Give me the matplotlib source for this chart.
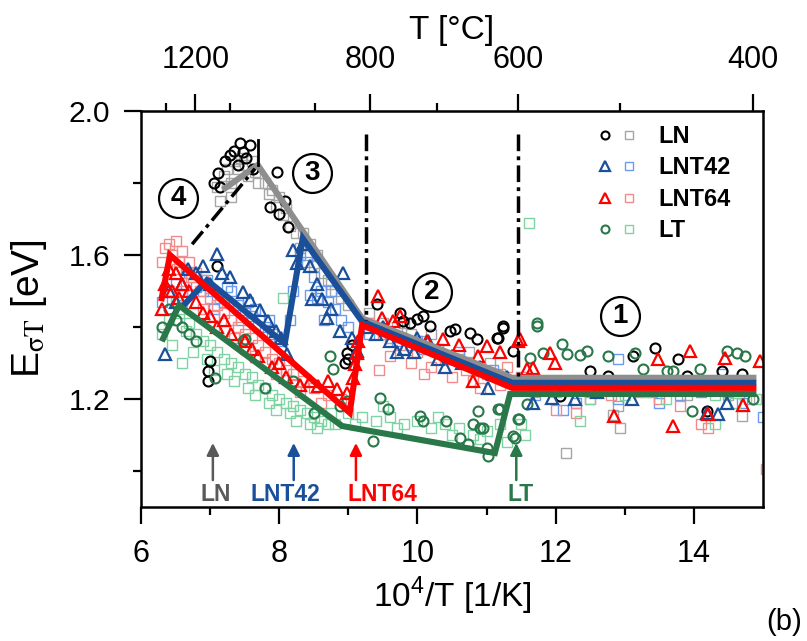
import matplotlib.pyplot as plt
from matplotlib.legend_handler import HandlerTuple
import numpy as np

plt.rcParams['font.family'] = ['Liberation Sans', 'DejaVu Sans']
plt.rcParams['mathtext.fontset'] = 'custom'
plt.rcParams['mathtext.rm'] = 'Liberation Sans'

# ---- measured points (x = 10^4/T, y = E in eV) ----
ln_circ_x = [7.43, 7.58, 7.48, 7.29, 7.11, 7.14, 7.97, 7.87, 8.08, 8.13, 7.99, 7.10, 7.35, 7.22,
             7.52, 7.05, 7.00, 6.97, 6.97, 8.98, 9.00, 9.42, 9.75, 9.79, 10.08, 10.18, 10.47,
             10.54, 10.76, 10.86, 11.15, 11.24, 11.38, 9.89, 10.00, 11.24, 11.17, 13.12, 13.44,
             13.77, 14.41, 14.70, 12.50, 12.76, 14.19, 12.06, 13.90, 9.05, 8.95, 7.62, 7.40]
ln_circ_y = [1.91, 1.905, 1.886, 1.877, 1.827, 1.79, 1.83, 1.733, 1.75, 1.677, 1.715, 1.57, 1.89, 1.86,
             1.87, 1.80, 1.306, 1.279, 1.25, 1.329, 1.312, 1.465, 1.44, 1.418, 1.432, 1.404, 1.39,
             1.395, 1.384, 1.368, 1.37, 1.398, 1.334, 1.41, 1.423, 1.404, 1.37, 1.32, 1.343,
             1.312, 1.279, 1.27, 1.279, 1.265, 1.167, 1.209, 1.265, 1.35, 1.30, 1.84, 1.85]

ln_sq_x = [7.10, 7.20, 7.25, 7.30, 7.35, 7.40, 7.45, 7.50, 7.55, 7.60, 7.70, 7.80, 7.85, 7.95, 8.05,
           8.15, 8.25, 8.30, 8.40, 8.50, 8.60, 8.70, 8.80, 8.90, 9.00, 7.30, 7.15, 8.00, 8.45,
           9.30, 9.50, 9.70, 9.90, 10.10, 10.30, 10.60, 10.90, 11.20, 9.60, 10.40,
           12.50, 12.90, 13.40, 13.90, 14.50, 12.10, 14.80, 12.15, 12.93, 12.83, 14.70,
           7.65, 7.90, 8.10, 8.35, 8.55, 8.75, 9.80, 10.20, 10.75, 11.05]
ln_sq_y = [1.79, 1.82, 1.84, 1.80, 1.86, 1.84, 1.87, 1.85, 1.82, 1.86, 1.80, 1.80, 1.77, 1.74, 1.71,
           1.68, 1.66, 1.62, 1.60, 1.57, 1.55, 1.53, 1.50, 1.48, 1.46, 1.76, 1.75, 1.76, 1.63,
           1.44, 1.41, 1.40, 1.38, 1.36, 1.34, 1.31, 1.29, 1.27, 1.37, 1.32,
           1.22, 1.18, 1.22, 1.21, 1.21, 1.24, 1.20, 1.05, 1.12, 1.156, 1.153,
           1.83, 1.78, 1.73, 1.66, 1.60, 1.52, 1.41, 1.38, 1.33, 1.30]

lnt42_tri_x = [6.35, 7.10, 7.17, 7.29, 7.48, 7.58, 7.72, 7.84, 8.11, 8.20, 8.26, 8.47, 8.62, 8.69,
               8.92, 8.88, 9.05, 9.13, 6.68, 6.40, 6.50, 6.60, 6.80, 7.00, 6.90,
               9.25, 9.40, 9.60, 9.80, 9.95, 10.15, 10.30, 10.50, 10.65, 10.90, 11.10, 11.30, 9.50,
               10.00, 8.35, 8.45, 8.55, 8.75, 11.67, 11.95, 12.28, 14.35, 14.19, 14.48, 11.02,
               13.10, 12.60, 7.95, 8.02, 9.70, 10.40]
lnt42_tri_y = [1.326, 1.604, 1.549, 1.538, 1.496, 1.474, 1.446, 1.418, 1.326, 1.613, 1.577, 1.479,
               1.479, 1.426, 1.549, 1.39, 1.37, 1.334, 1.56, 1.50, 1.47, 1.52, 1.55, 1.52, 1.57,
               1.40, 1.38, 1.36, 1.34, 1.33, 1.36, 1.31, 1.32, 1.30, 1.29, 1.27, 1.26, 1.40,
               1.37, 1.63, 1.57, 1.52, 1.45, 1.19, 1.203, 1.20, 1.159, 1.16, 1.19, 1.231,
               1.20, 1.22, 1.39, 1.37, 1.33, 1.29]

lnt42_sq_x = [6.30, 6.40, 6.50, 6.60, 6.70, 6.80, 6.90, 7.00, 7.10, 7.20, 7.30, 7.40, 7.50, 7.60,
              7.70, 7.80, 7.90, 8.00, 8.15, 8.20, 8.30, 8.40, 8.50, 8.60, 8.70, 8.80, 8.90, 9.00,
              8.45, 8.65, 7.05, 7.45, 7.55, 9.30, 9.50, 9.70, 9.90, 10.10, 10.30, 10.50, 10.70,
              10.90, 11.10, 11.30, 11.70, 12.00, 12.30, 12.60, 12.90, 13.20, 13.50, 13.80, 14.10,
              14.40, 14.70, 15.00, 12.90, 12.10, 6.95, 7.25, 7.65, 7.85, 8.55, 8.75, 9.60, 10.00,
              10.60]
lnt42_sq_y = [1.47, 1.50, 1.52, 1.49, 1.55, 1.51, 1.50, 1.50, 1.48, 1.47, 1.50, 1.46, 1.44, 1.43,
              1.40, 1.40, 1.38, 1.36, 1.42, 1.50, 1.60, 1.58, 1.54, 1.50, 1.47, 1.45, 1.42, 1.40,
              1.49, 1.42, 1.45, 1.42, 1.47, 1.38, 1.39, 1.36, 1.35, 1.34, 1.33, 1.31, 1.30,
              1.28, 1.28, 1.25, 1.21, 1.23, 1.19, 1.22, 1.20, 1.23, 1.19, 1.21, 1.22,
              1.27, 1.19, 1.15, 1.31, 1.17, 1.53, 1.51, 1.45, 1.42, 1.48, 1.50, 1.38, 1.36,
              1.33]

lnt64_tri_x = [6.30, 6.35, 6.40, 6.45, 6.50, 6.55, 6.60, 6.70, 6.80, 6.90, 7.00, 7.10, 7.30, 7.50,
               7.70, 7.90, 8.10, 8.30, 8.56, 8.71, 8.84, 8.98, 9.07, 9.10, 9.13, 9.14,
               9.43, 9.49, 9.65, 9.75, 10.14, 10.37, 10.60, 10.80, 10.88, 11.00, 11.20, 11.46,
               11.59, 11.67, 11.48, 11.92, 11.99, 13.48, 13.95, 14.45, 12.85, 13.70, 14.71, 14.20,
               14.96, 7.20, 7.60, 8.00, 8.45]
lnt64_tri_y = [1.45, 1.52, 1.56, 1.50, 1.55, 1.48, 1.52, 1.50, 1.47, 1.44, 1.43, 1.40, 1.38, 1.36,
               1.32, 1.29, 1.26, 1.24, 1.237, 1.25, 1.228, 1.217, 1.259, 1.298, 1.329, 1.362,
               1.487, 1.426, 1.418, 1.43, 1.362, 1.368, 1.35, 1.25, 1.32, 1.348, 1.33, 1.362,
               1.284, 1.287, 1.367, 1.329, 1.301, 1.312, 1.334, 1.315, 1.153, 1.125, 1.184, 1.159,
               1.306, 1.42, 1.34, 1.30, 1.25]

lnt64_sq_x = [6.30, 6.35, 6.40, 6.45, 6.50, 6.55, 6.60, 6.65, 6.70, 6.75, 6.80, 6.85, 6.90, 7.00,
              7.10, 7.20, 7.30, 7.40, 7.50, 7.60, 7.70, 7.80, 7.90, 8.00, 8.10, 8.20, 8.35, 8.50,
              8.70, 8.90, 6.40, 6.60, 6.90, 7.20, 7.50, 7.80, 8.30,
              9.30, 9.50, 9.60, 9.75, 9.90, 10.00, 10.20, 10.40, 10.50, 10.70, 10.80, 11.00,
              11.20, 11.30, 9.45, 11.50, 11.70, 12.00, 12.20, 12.50, 12.80, 13.20, 13.50, 13.80,
              14.20, 14.10, 14.50, 14.80, 12.30, 13.00, 15.05, 6.52, 6.72, 7.05, 7.35, 7.65, 7.95,
              8.25, 8.60, 10.10, 10.90]
lnt64_sq_y = [1.58, 1.62, 1.63, 1.60, 1.64, 1.58, 1.61, 1.55, 1.58, 1.52, 1.55, 1.50, 1.53, 1.48,
              1.46, 1.44, 1.42, 1.40, 1.38, 1.37, 1.35, 1.33, 1.31, 1.30, 1.28, 1.27, 1.25, 1.23,
              1.21, 1.20, 1.50, 1.50, 1.45, 1.39, 1.34, 1.30, 1.22,
              1.41, 1.38, 1.32, 1.35, 1.30, 1.33, 1.29, 1.31, 1.26, 1.28, 1.25, 1.27,
              1.24, 1.29, 1.28, 1.26, 1.22, 1.17, 1.24, 1.20, 1.21, 1.22, 1.20, 1.18,
              1.12, 1.13, 1.22, 1.24, 1.16, 1.25, 1.005, 1.56, 1.54, 1.43, 1.37, 1.32, 1.27,
              1.24, 1.19, 1.27, 1.23]

lt_circ_x = [6.30, 6.40, 6.50, 6.60, 6.70, 6.80, 7.07, 7.48, 7.50, 8.20, 8.74, 8.78, 8.88, 8.98,
             9.46, 9.36, 9.57, 10.04, 10.08, 10.42, 10.61, 10.73, 10.80, 10.88, 10.91, 10.95,
             11.00, 11.02, 11.17, 11.38, 11.41, 11.46, 11.59, 11.73, 11.73, 12.09, 11.82, 12.16,
             12.35, 12.45, 12.76, 13.15, 13.27, 13.61, 13.70, 14.09, 14.48, 14.63, 14.74, 13.97,
             11.47, 11.20, 14.86, 11.63, 7.80, 8.50]
lt_circ_y = [1.40, 1.45, 1.42, 1.40, 1.38, 1.36, 1.259, 1.362, 1.368, 1.25, 1.32, 1.284, 1.181, 1.195,
             1.203, 1.084, 1.173, 1.153, 1.139, 1.139, 1.092, 1.075, 1.131, 1.167, 1.12, 1.12,
             1.064, 1.042, 1.173, 1.097, 1.092, 1.145, 1.187, 1.41, 1.404, 1.354, 1.329, 1.326,
             1.323, 1.334, 1.32, 1.329, 1.284, 1.279, 1.279, 1.284, 1.334, 1.329, 1.32, 1.167,
             1.145, 1.173, 1.20, 1.315, 1.23, 1.16]

lt_sq_x = [6.30, 6.40, 6.50, 6.55, 6.60, 6.70, 6.80, 6.90, 7.00, 7.10, 7.20, 7.30, 7.40, 7.50,
           7.60, 7.70, 7.80, 7.90, 8.00, 8.10, 8.20, 8.30, 8.40, 8.50, 8.60, 8.70, 8.80, 6.45,
           6.75, 7.05, 7.35, 7.65, 7.95, 8.25, 8.55, 6.60, 8.06,
           9.00, 9.20, 9.40, 9.60, 9.80, 10.00, 10.20, 10.30, 10.50, 10.60, 10.80, 11.00, 11.20,
           11.30, 9.50, 11.61, 11.70, 12.00, 12.20, 12.50, 12.70, 13.00, 13.30, 13.60, 13.90,
           14.30, 14.60, 14.90, 12.35, 12.80, 11.55, 11.50, 14.30, 6.65, 6.95, 7.25, 7.55, 7.85,
           8.15, 8.45, 8.75, 9.10, 9.70, 10.40, 10.90]
lt_sq_y = [1.38, 1.42, 1.47, 1.44, 1.45, 1.41, 1.38, 1.36, 1.35, 1.33, 1.31, 1.30, 1.29, 1.27,
           1.26, 1.24, 1.23, 1.21, 1.20, 1.19, 1.18, 1.17, 1.16, 1.15, 1.14, 1.13, 1.13, 1.35,
           1.33, 1.28, 1.25, 1.21, 1.17, 1.14, 1.12, 1.30, 1.48,
           1.16, 1.15, 1.14, 1.15, 1.13, 1.14, 1.12, 1.15, 1.10, 1.12, 1.10, 1.11, 1.13,
           1.08, 1.18, 1.69, 1.24, 1.22, 1.25, 1.20, 1.24, 1.21, 1.22, 1.20, 1.23,
           1.21, 1.19, 1.20, 1.14, 1.25, 1.10, 1.13, 1.13, 1.39, 1.31, 1.27, 1.23, 1.19,
           1.16, 1.13, 1.16, 1.13, 1.12, 1.13, 1.09]

# ---- piecewise fits ----
ln_fit_x = [7.22, 7.69, 9.20, 11.37, 14.86]
ln_fit_y = [1.786, 1.85, 1.424, 1.259, 1.259]
lnt42_fit_x = [6.64, 6.955, 8.08, 8.34, 9.20, 11.37, 14.86]
lnt42_fit_y = [1.465, 1.53, 1.354, 1.646, 1.415, 1.245, 1.245]
lnt64_fit_x = [6.30, 6.42, 9.02, 9.20, 11.37, 14.86]
lnt64_fit_y = [1.48, 1.60, 1.162, 1.405, 1.231, 1.231]
lt_fit_x = [6.32, 6.55, 8.91, 11.12, 11.34, 14.86]
lt_fit_y = [1.368, 1.46, 1.125, 1.05, 1.214, 1.214]

# transition positions (arrows) and regime labels
arrow_names = ['LN', 'LNT42', 'LNT64', 'LT']
arrow_x = [7.04, 8.21, 9.11, 11.43]
regime_names = ['1', '2', '3', '4']
regime_x = [12.93, 10.21, 8.47, 6.54]
regime_y = [1.432, 1.496, 1.827, 1.758]

c_gray, c_blue, c_red, c_green = '#8e8e8e', '#1a4f9a', '#ff0000', '#2a774a'
c_lgray, c_lblue, c_lred, c_lgreen = '#a6a6a6', '#6b9bf0', '#f28a8a', '#7fd3a2'
arrow_colors = ['#595959', c_blue, c_red, c_green]

fig = plt.figure(figsize=(8.07, 6.41), dpi=100)
ax = fig.add_axes([0.1747, 0.2090, 0.7708, 0.6178])

sq = dict(marker='s', ls='none', mfc='none', ms=7, mew=1.0)
h_ln_s, = ax.plot(ln_sq_x, ln_sq_y, mec=c_lgray, **sq)
h_42_s, = ax.plot(lnt42_sq_x, lnt42_sq_y, mec=c_lblue, **sq)
h_64_s, = ax.plot(lnt64_sq_x, lnt64_sq_y, mec=c_lred, **sq)
h_lt_s, = ax.plot(lt_sq_x, lt_sq_y, mec=c_lgreen, **sq)
h_ln_c, = ax.plot(ln_circ_x, ln_circ_y, marker='o', ls='none', mfc='none', mec='black', ms=7.2, mew=1.5)
h_lt_c, = ax.plot(lt_circ_x, lt_circ_y, marker='o', ls='none', mfc='none', mec=c_green, ms=7.2, mew=1.5)
h_42_t, = ax.plot(lnt42_tri_x, lnt42_tri_y, marker='^', ls='none', mfc='none', mec=c_blue, ms=9, mew=1.6)
h_64_t, = ax.plot(lnt64_tri_x, lnt64_tri_y, marker='^', ls='none', mfc='none', mec=c_red, ms=9, mew=1.6)

fit_lw = 4.4
ax.plot(ln_fit_x, ln_fit_y, color=c_gray, lw=fit_lw, solid_joinstyle='miter', zorder=4)
ax.plot(lnt42_fit_x, lnt42_fit_y, color=c_blue, lw=fit_lw, solid_joinstyle='miter', zorder=4)
ax.plot(lnt64_fit_x, lnt64_fit_y, color=c_red, lw=fit_lw, solid_joinstyle='miter', zorder=4)
ax.plot(lt_fit_x, lt_fit_y, color=c_green, lw=fit_lw, solid_joinstyle='miter', zorder=4)

# regime boundaries
dashdot = (0, (4.8, 1.5, 1.1, 1.5))
ax.plot([9.25, 9.25], [1.935, 1.42], color='black', lw=2.5, ls=dashdot, zorder=5)
ax.plot([11.46, 11.46], [1.935, 1.26], color='black', lw=2.5, ls=dashdot, zorder=5)
ax.plot([6.74, 7.65], [1.63, 1.84], color='black', lw=2.5, ls=dashdot, zorder=5)
ax.plot([7.69, 7.69], [1.85, 1.92], color='black', lw=2.0, zorder=5)

# numbered regimes
for name, x, y in zip(regime_names, regime_x, regime_y):
    ax.plot(x, y, marker='o', ms=28, mfc='white', mec='black', mew=1.6, zorder=6)
    ax.text(x, y, name, ha='center', va='center', fontsize=20, fontweight='bold', zorder=7)

# transition arrows
for name, x, col in zip(arrow_names, arrow_x, arrow_colors):
    ax.annotate('', xy=(x, 1.078), xytext=(x, 0.975),
                arrowprops=dict(arrowstyle='-|>', color=col, lw=1.8, mutation_scale=18,
                                shrinkA=0, shrinkB=0))
label_x = [7.08, 8.09, 9.49, 11.49]
for name, x, col in zip(arrow_names, label_x, arrow_colors):
    ax.text(x, 0.936, name, color=col, ha='center', va='center', fontsize=16.5, fontweight='bold')

ax.set_xlim(6, 15)
ax.set_ylim(0.9, 2.0)
ax.set_xticks([6, 8, 10, 12, 14])
ax.set_xticks([7, 9, 11, 13], minor=True)
ax.set_yticks([1.2, 1.6, 2.0])
ax.set_yticks([1.0, 1.4, 1.8], minor=True)
ax.tick_params(which='major', length=12, width=1.6, labelsize=22, pad=11)
ax.tick_params(which='minor', length=6, width=1.6)
ax.tick_params(axis='y', labelsize=21.5, pad=10)
for s in ax.spines.values():
    s.set_linewidth(1.8)

ax.set_xlabel(r'10$^{\mathrm{4}}$/T [1/K]', fontsize=24, labelpad=4)
ax.set_ylabel(r'E$_{\mathrm{\sigma T}}$ [eV]', fontsize=28, labelpad=14, math_fontfamily='stix')


def inv_to_celsius(x):
    x = np.asarray(x, dtype=float)
    with np.errstate(divide='ignore'):
        return 1e4 / x - 273.15


def celsius_to_inv(t):
    t = np.asarray(t, dtype=float)
    with np.errstate(divide='ignore'):
        return 1e4 / (t + 273.15)


top = ax.secondary_xaxis('top', functions=(inv_to_celsius, celsius_to_inv))
top.set_xticks([1200, 800, 600, 400])
top.set_xticks([1300, 1100, 900, 700, 500], minor=True)
top.tick_params(which='major', length=12, width=1.6, labelsize=22, pad=14)
top.tick_params(which='minor', length=6, width=1.6)
top.set_xlabel('T [°C]', fontsize=24, labelpad=4)

leg = ax.legend([(h_ln_c, h_ln_s), (h_42_t, h_42_s), (h_64_t, h_64_s), (h_lt_c, h_lt_s)],
                ['LN', 'LNT42', 'LNT64', 'LT'],
                handler_map={tuple: HandlerTuple(ndivide=None, pad=0.5)},
                loc='upper left', bbox_to_anchor=(0.737, 0.965), frameon=False,
                prop={'size': 17, 'weight': 'bold'}, handlelength=1.5, handletextpad=1.0,
                labelspacing=0.36, borderaxespad=0, borderpad=0, markerscale=0.8)

fig.text(0.972, 0.03, '(b)', fontsize=21, ha='center', va='center')

fig.savefig('out.png', dpi=100)
